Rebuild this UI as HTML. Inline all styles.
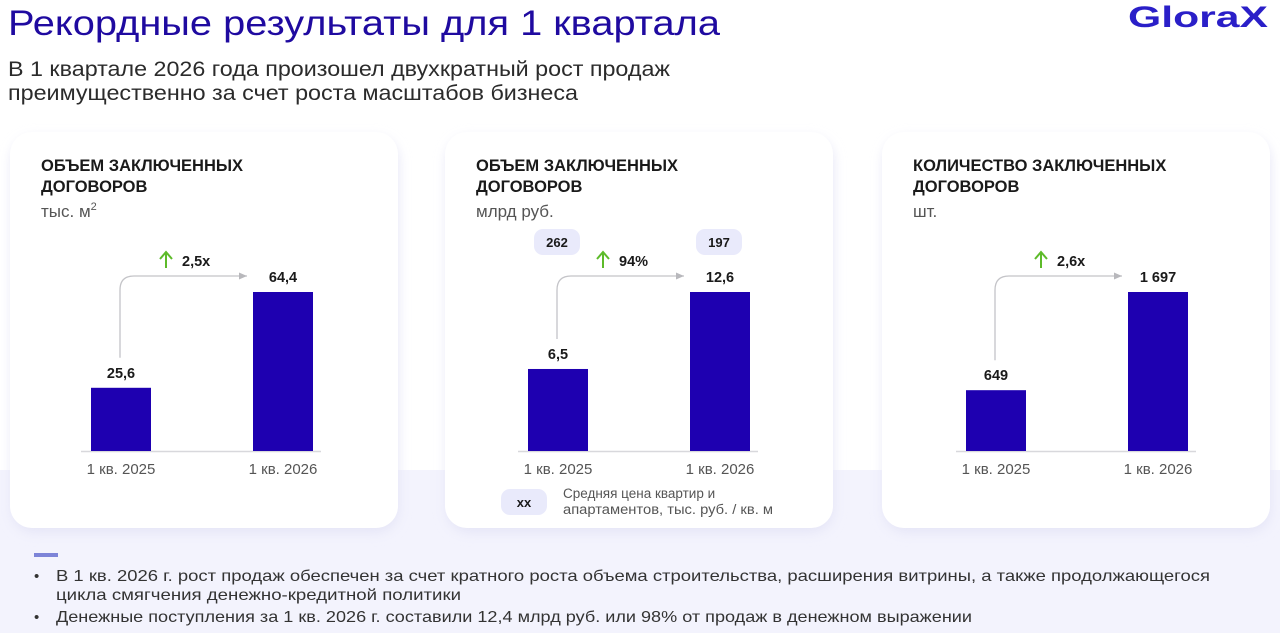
<!DOCTYPE html>
<html><head><meta charset="utf-8"><style>
html,body{margin:0;padding:0;width:1280px;height:633px;overflow:hidden;background:#fff;}
svg{display:block;font-family:"Liberation Sans",sans-serif;}
</style></head><body>
<svg id="s" width="1280" height="633" viewBox="0 0 1280 633">
<defs>
<filter id="sh" x="-10%" y="-10%" width="120%" height="120%"><feGaussianBlur stdDeviation="6"/></filter>
<marker id="ar" viewBox="0 0 10 10" refX="9" refY="5" markerWidth="7" markerHeight="7" orient="auto"><path d="M0,1 L9,5 L0,9 z" fill="#b8b8bc"/></marker>
</defs>
<rect x="0" y="0" width="1280" height="633" fill="#ffffff"/>
<rect x="0" y="470" width="1280" height="163" fill="#f3f3fd"/>
<text x="8" y="35" font-size="35" fill="#1f0aa0" textLength="712" lengthAdjust="spacingAndGlyphs">Рекордные результаты для 1 квартала</text>
<text x="1128" y="27" font-size="30" font-weight="bold" fill="#2a1fc8" textLength="140" lengthAdjust="spacingAndGlyphs">GloraX</text>
<text x="8" y="76" font-size="21" fill="#2b2b2b" textLength="662" lengthAdjust="spacingAndGlyphs">В 1 квартале 2026 года произошел двухкратный рост продаж</text>
<text x="8" y="100" font-size="21" fill="#2b2b2b" textLength="570" lengthAdjust="spacingAndGlyphs">преимущественно за счет роста масштабов бизнеса</text>
<g id="cards"></g>
<rect x="34" y="553" width="24" height="4" fill="#7d84d8"/>
<text x="34" y="581" font-size="15" fill="#333">•</text>
<text x="56" y="581" font-size="16" fill="#333" textLength="1154" lengthAdjust="spacingAndGlyphs">В 1 кв. 2026 г. рост продаж обеспечен за счет кратного роста объема строительства, расширения витрины, а также продолжающегося</text>
<text x="56" y="600" font-size="16" fill="#333" textLength="405" lengthAdjust="spacingAndGlyphs">цикла смягчения денежно-кредитной политики</text>
<text x="34" y="622" font-size="15" fill="#333">•</text>
<text x="56" y="622" font-size="16" fill="#333" textLength="916" lengthAdjust="spacingAndGlyphs">Денежные поступления за 1 кв. 2026 г. составили 12,4 млрд руб. или 98% от продаж в денежном выражении</text>
</svg>
<script>
const categories = ["1 кв. 2025", "1 кв. 2026"];
const areaValues = [25.6, 64.4];
const moneyValues = [6.5, 12.6];
const countValues = [649, 1697];
const areaLabels = ["25,6", "64,4"];
const moneyLabels = ["6,5", "12,6"];
const countLabels = ["649", "1 697"];
const growthLabels = ["2,5x", "94%", "2,6x"];
const priceLabels = ["262", "197"];

const NS = "http://www.w3.org/2000/svg";
const root = document.getElementById("cards");
function mk(tag, attrs, parent, text) {
  const e = document.createElementNS(NS, tag);
  for (const k in attrs) e.setAttribute(k, attrs[k]);
  if (text !== undefined) e.textContent = text;
  (parent || root).appendChild(e);
  return e;
}
const cardsDef = [
  {x:10, c0:121, title:["ОБЪЕМ ЗАКЛЮЧЕННЫХ","ДОГОВОРОВ"], unit:"тыс. м", sup:"2", vals:areaValues, labs:areaLabels, g:growthLabels[0]},
  {x:445, c0:558, title:["ОБЪЕМ ЗАКЛЮЧЕННЫХ","ДОГОВОРОВ"], unit:"млрд руб.", vals:moneyValues, labs:moneyLabels, g:growthLabels[1], price:true},
  {x:882, c0:996, title:["КОЛИЧЕСТВО ЗАКЛЮЧЕННЫХ","ДОГОВОРОВ"], unit:"шт.", vals:countValues, labs:countLabels, g:growthLabels[2]}
];
const baseY = 451, maxH = 159;
cardsDef.forEach((c, ci) => {
  const g = mk("g", {});
  
  
  const sh = mk("rect", {x:c.x+2, y:138, width:386, height:394, rx:22, fill:"#e4e4f6", filter:"url(#sh)"}, g);
  
  
  const bg = mk("rect", {x:c.x, y:132, width:388, height:396, rx:22, fill:"#ffffff"}, g);
  
  
  c.title.forEach((t, i) => {
    const tt = mk("text", {x:c.x+31, y:171+i*21, "font-size":16.5, "font-weight":"bold", fill:"#1a1a1a"}, g, t);
    
    
  });
  const u = mk("text", {x:c.x+31, y:217, "font-size":17, fill:"#555"}, g, c.unit);
  
  
  if (c.sup) { mk("tspan", {dy:-7, "font-size":11}, u, c.sup); }
  const maxV = Math.max(...c.vals);
  const yS = v => baseY - v / maxV * maxH;
  const xC = i => c.c0 + i * 162;
  const ax = mk("line", {x1:c.c0-40, x2:c.c0+200, y1:baseY+0.5, y2:baseY+0.5, stroke:"#d8d8dc", "stroke-width":1.5}, g);
  
  
  c.vals.forEach((v, i) => {
    const b = mk("rect", {x:xC(i)-30, y:yS(v), width:60, height:baseY-yS(v), fill:"#1e00b0"}, g);
    
    
    const vl = mk("text", {x:xC(i), y:yS(v)-10, "font-size":14.5, "font-weight":"bold", fill:"#1a1a1a", "text-anchor":"middle"}, g, c.labs[i]);
    
    
    const cl = mk("text", {x:xC(i), y:baseY+23, "font-size":15, fill:"#555", "text-anchor":"middle"}, g, categories[i]);
    
    
  });
  const ay = 276, vx = xC(0) - 1, y0 = yS(c.vals[0]) - 30, ex = xC(1) - 36;
  const conn = mk("path", {d:`M${vx},${y0} L${vx},${ay+14} Q${vx},${ay} ${vx+14},${ay} L${ex},${ay}`, fill:"none", stroke:"#c4c4c8", "stroke-width":1.3, "marker-end":"url(#ar)"}, g);
  
  
  const gx = xC(0) + 45;
  const ga = mk("path", {d:`M${gx},${268} L${gx},${253} M${gx-6},${259} L${gx},${252} L${gx+6},${259}`, fill:"none", stroke:"#5dbb2a", "stroke-width":2}, g);
  
  
  const gl = mk("text", {x:gx+16, y:266, "font-size":14.5, "font-weight":"bold", fill:"#1a1a1a"}, g, c.g);
  
  
  if (c.price) {
    priceLabels.forEach((p, i) => {
      const px = xC(i) - 1;
      const pb = mk("rect", {x:px-23, y:229, width:46, height:26, rx:9, fill:"#e9eafb"}, g);
      
      
      const pt = mk("text", {x:px, y:247, "font-size":13, "font-weight":"bold", fill:"#1a1a1a", "text-anchor":"middle"}, g, p);
      
      
    });
    const lb = mk("rect", {x:c.x+56, y:489, width:46, height:26, rx:9, fill:"#e9eafb"}, g);
    
    
    const lt = mk("text", {x:c.x+79, y:507, "font-size":13, "font-weight":"bold", fill:"#1a1a1a", "text-anchor":"middle"}, g, "xx");
    
    
    const l1 = mk("text", {x:c.x+118, y:498, "font-size":13.5, fill:"#555"}, g, "Средняя цена квартир и");
    
    
    const l2 = mk("text", {x:c.x+118, y:514, "font-size":13.5, fill:"#555", textLength:210, lengthAdjust:"spacingAndGlyphs"}, g, "апартаментов, тыс. руб. / кв. м");
    
    
  }
});
</script>
</body></html>
